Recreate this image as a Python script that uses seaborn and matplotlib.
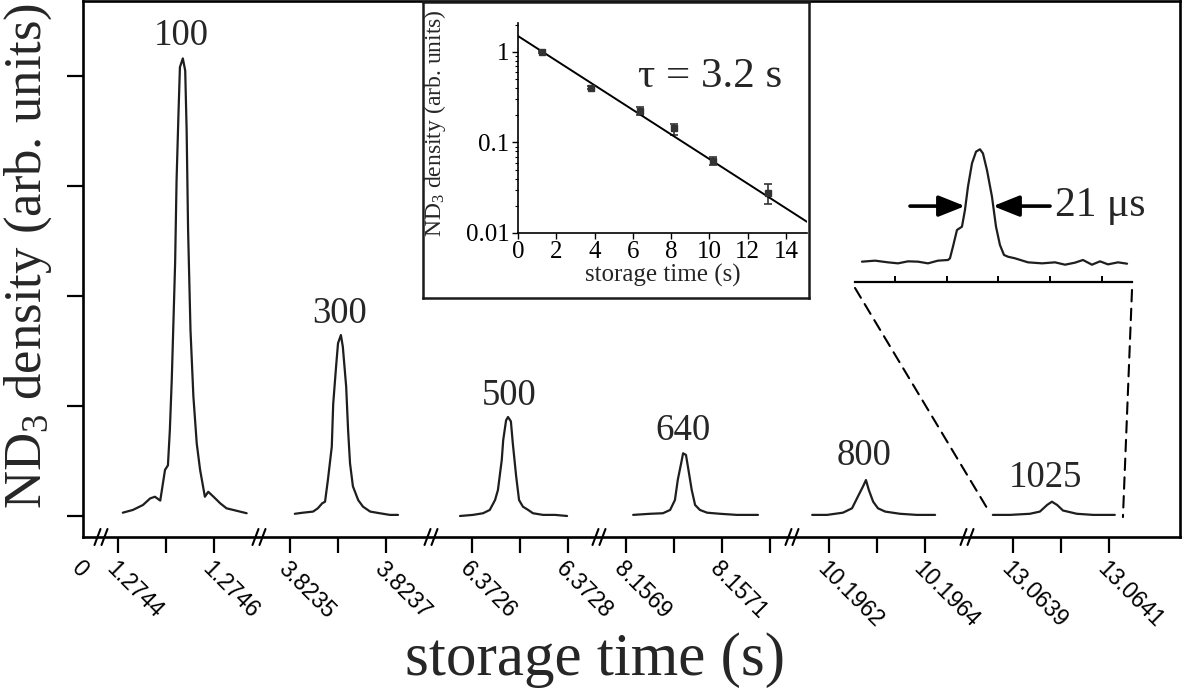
import numpy as np
import matplotlib
matplotlib.use("Agg")
import matplotlib.pyplot as plt
import seaborn as sns
from matplotlib.lines import Line2D
from matplotlib.patches import ConnectionPatch

# ---------------- data ----------------
delay_labels = ["100", "300", "500", "640", "800", "1025"]

# first labelled tick of every axis segment (s); peak data are given in microseconds after it
seg_base = [1.2744, 3.8235, 6.3726, 8.1569, 10.1962, 13.0639]
seg_ticks_us = [[0, 100, 200], [0, 100, 200], [0, 100, 200], [0, 100, 200, 300], [0, 100, 200], [0, 100, 200]]
seg_ticklabels = [["1.2744", "", "1.2746"], ["3.8235", "", "3.8237"], ["6.3726", "", "6.3728"],
                  ["8.1569", "", "8.1571", ""], ["10.1962", "", "10.1964"], ["13.0639", "", "13.0641"]]

peak1_us = [10, 31, 52, 67, 77, 88, 98, 104, 108, 112, 115, 119, 122, 126, 129, 135, 140, 143, 146, 151,
            157, 164, 171, 181, 188, 199, 213, 226, 240, 268]
peak1_y = [0.03, 0.055, 0.10, 0.16, 0.175, 0.14, 0.42, 0.46, 0.78, 1.24, 1.69, 2.30, 3.05, 3.66, 4.08, 4.16,
           4.05, 3.50, 2.60, 1.69, 1.09, 0.66, 0.42, 0.175, 0.22, 0.175, 0.115, 0.07, 0.055, 0.025]
peak2_us = [10, 27, 48, 58, 67, 73, 79, 87, 90, 96, 100, 106, 110, 117, 121, 125, 131, 142, 152, 167, 187, 208, 225]
peak2_y = [0.02, 0.03, 0.04, 0.07, 0.115, 0.13, 0.33, 0.63, 1.02, 1.36, 1.57, 1.645, 1.54, 1.175, 0.78, 0.48,
           0.27, 0.145, 0.085, 0.04, 0.025, 0.01, 0.01]
peak3_us = [-25, 2, 23, 37, 48, 54, 62, 65, 71, 75, 81, 85, 92, 98, 106, 117, 127, 148, 173, 198]
peak3_y = [0.0, 0.01, 0.025, 0.055, 0.145, 0.236, 0.51, 0.69, 0.87, 0.90, 0.86, 0.66, 0.36, 0.145, 0.085,
           0.055, 0.025, 0.01, 0.01, 0.0]
peak4_us = [15, 50, 77, 92, 102, 108, 115, 119, 125, 129, 137, 144, 154, 169, 196, 231, 275]
peak4_y = [0.01, 0.02, 0.025, 0.055, 0.145, 0.33, 0.48, 0.57, 0.555, 0.45, 0.236, 0.10, 0.055, 0.03, 0.02,
           0.01, 0.01]
peak5_us = [-35, -4, 29, 48, 60, 71, 77, 83, 92, 102, 117, 148, 183, 221]
peak5_y = [0.01, 0.01, 0.03, 0.07, 0.175, 0.27, 0.327, 0.236, 0.13, 0.07, 0.04, 0.02, 0.01, 0.01]
peak6_us = [-42, -6, 35, 56, 71, 81, 92, 104, 133, 167, 212]
peak6_y = [0.01, 0.01, 0.02, 0.04, 0.10, 0.13, 0.10, 0.05, 0.02, 0.01, 0.01]

label_us = [131, 104, 77, 119, 73, 67]
label_y = [4.28, 1.755, 1.01, 0.69, 0.46, 0.264]

# magnified 1025 ms peak (upper-right inset)
zoom_us = [18.1, 30.7, 43.2, 52.9, 62.6, 72.2, 81.9, 91.5, 101.2, 103.1, 106.0, 109.9, 114.7, 117.6, 120.5,
           124.4, 128.3, 132.1, 135.0, 138.9, 143.7, 147.6, 151.4, 155.3, 159.2, 165.9, 178.5, 192.0, 204.6,
           214.3, 223.9, 231.6, 240.3, 248.1, 255.8, 265.5, 274.2]
zoom_y = [-0.006, 0.003, -0.012, -0.021, -0.003, -0.006, -0.021, 0.003, 0.009, 0.024, 0.128, 0.277, 0.306,
          0.455, 0.663, 0.872, 0.976, 0.997, 0.96, 0.81, 0.574, 0.306, 0.143, 0.054, 0.038, 0.024, -0.012,
          -0.021, -0.012, -0.033, -0.015, 0.009, -0.033, -0.003, -0.03, -0.012, -0.024]

# decay inset
storage_s = [1.27, 3.82, 6.37, 8.16, 10.20, 13.06]
density = [1.0, 0.40, 0.223, 0.143, 0.0625, 0.0275]
dens_lo = [0.97, 0.385, 0.20, 0.121, 0.056, 0.021]
dens_hi = [1.03, 0.42, 0.245, 0.16, 0.07, 0.0345]
fit_t = [0.0, 15.1]
fit_y = [1.5, 0.0133]

peaks_us = [peak1_us, peak2_us, peak3_us, peak4_us, peak5_us, peak6_us]
peaks_y = [peak1_y, peak2_y, peak3_y, peak4_y, peak5_y, peak6_y]

# ---------------- style ----------------
sns.set_theme(style="ticks")
plt.rcParams["font.family"] = ["Liberation Serif", "DejaVu Serif"]
plt.rcParams["mathtext.fontset"] = "custom"
plt.rcParams["mathtext.rm"] = "Liberation Serif"
plt.rcParams["mathtext.it"] = "Liberation Serif:italic"
plt.rcParams["axes.edgecolor"] = "black"
plt.rcParams["xtick.color"] = "black"
plt.rcParams["ytick.color"] = "black"

W, H = 1182, 696
fig = plt.figure(figsize=(W / 100, H / 100), dpi=100)
fig.patch.set_facecolor("white")


def fx(px):
    return px / W


def fy(py):
    return 1 - py / H


TOP, BOT = 1, 537
YLIM = (-0.191, 4.682)
TRACE = "#1e1e1e"

frame = fig.add_axes([fx(83), fy(BOT), fx(1180) - fx(83), fy(TOP) - fy(BOT)])
frame.set_ylim(YLIM)
frame.set_xticks([])
frame.set_yticks([0, 1, 2, 3, 4])
frame.set_yticklabels([])
frame.tick_params(axis="y", length=11.5, width=1.6, direction="out")
for s in frame.spines.values():
    s.set_linewidth(1.9)
    s.set_visible(True)

# stub with "0"
ax0 = fig.add_axes([fx(83), fy(BOT), 18 / W, fy(TOP) - fy(BOT)])
ax0.patch.set_alpha(0)
ax0.set_xlim(0, 1)
ax0.set_ylim(YLIM)
ax0.set_xticks([0])
ax0.set_xticklabels(["0"], rotation=-45, ha="left", rotation_mode="anchor", family="Liberation Sans", fontsize=16.5)
ax0.tick_params(axis="x", length=0, pad=14)
ax0.set_yticks([])
for s in ax0.spines.values():
    s.set_visible(False)

US_PER_PX = 2.083
seg_xlim_us = [(-35.4, 293.7), (-64.6, 293.7), (-85.4, 264.5), (-56.2, 345.8), (-77.1, 287.5), (-95.8, 347.9)]

left = 101.0
seg_axes = []
breaks = []
for i in range(6):
    lo, hi = seg_xlim_us[i]
    w = (hi - lo) / US_PER_PX
    ax = fig.add_axes([fx(left), fy(BOT), w / W, fy(TOP) - fy(BOT)])
    ax.patch.set_alpha(0)
    base = seg_base[i]
    t = base + np.array(peaks_us[i]) * 1e-6
    sns.lineplot(x=t, y=peaks_y[i], ax=ax, color=TRACE, linewidth=1.6, sort=False)
    ax.set_xlim(base + lo * 1e-6, base + hi * 1e-6)
    ax.set_ylim(YLIM)
    ax.set_xticks([base + u * 1e-6 for u in seg_ticks_us[i]])
    ax.set_xticklabels(seg_ticklabels[i], rotation=-45, ha="left", rotation_mode="anchor",
                       family="Liberation Sans", fontsize=16.5)
    ax.tick_params(axis="x", length=11.5, width=1.6, direction="out", pad=3)
    ax.set_yticks([])
    ax.set_xlabel("")
    ax.set_ylabel("")
    for s in ax.spines.values():
        s.set_visible(False)
    ax.text(base + label_us[i] * 1e-6, label_y[i], delay_labels[i], ha="center", va="baseline", fontsize=26.5)
    seg_axes.append(ax)
    breaks.append(left)
    left += w

# axis-break marks
for bx in breaks:
    for d in (-3.5, 3.5):
        fig.add_artist(Line2D([fx(bx + d - 3), fx(bx + d + 3)], [fy(BOT + 8), fy(BOT - 8)],
                              color="black", lw=1.5, transform=fig.transFigure))

fig.text(fx(28), fy(256), r"ND$_3$ density (arb. units)", rotation=90, ha="center", va="center", fontsize=38)
fig.text(fx(595), fy(660), "storage time (s)", ha="center", va="center", fontsize=44)

# ---------------- magnified peak inset ----------------
zax = fig.add_axes([fx(855), fy(282), (1132 - 855) / W, (282 - 140) / H])
zax.patch.set_alpha(0)
sns.lineplot(x=zoom_us, y=zoom_y, ax=zax, color=TRACE, linewidth=1.6, sort=False)
zax.set_xlim(11.35, 279)
zax.set_ylim(-0.1875, 1.08)
zax.set_xticks([50, 100, 150, 200, 250])
zax.set_xticklabels([])
zax.set_yticks([])
zax.set_xlabel("")
zax.set_ylabel("")
zax.tick_params(axis="x", direction="in", length=4, width=1.4)
for k, s in zax.spines.items():
    s.set_visible(k == "bottom")
zax.spines["bottom"].set_linewidth(1.6)
arrow = dict(arrowstyle="-|>,head_length=1.0,head_width=0.4", lw=2.6, color="black",
             shrinkA=0, shrinkB=0, mutation_scale=16)
zax.annotate("", xy=(117.6, 0.49), xytext=(64.5, 0.49), arrowprops=arrow)
zax.annotate("", xy=(144.7, 0.49), xytext=(199.8, 0.49), arrowprops=arrow)
zax.text(204.6, 0.49, "21 μs", ha="left", va="center", fontsize=30)

seg6 = seg_axes[5]
dash = (0, (5.5, 3.5))
con1 = ConnectionPatch(xyA=(0.0, -0.042), coordsA=zax.transAxes,
                       xyB=(seg_base[5] - 47.9e-6, 0.027), coordsB=seg6.transData,
                       lw=1.5, ls=dash, color="black")
con2 = ConnectionPatch(xyA=(1.0, -0.056), coordsA=zax.transAxes,
                       xyB=(seg_base[5] + 229e-6, -0.01), coordsB=seg6.transData,
                       lw=1.5, ls=dash, color="black")
fig.add_artist(con1)
fig.add_artist(con2)

# ---------------- decay inset ----------------
box = fig.add_axes([fx(423), fy(298), 386 / W, 296 / H])
box.set_xticks([])
box.set_yticks([])
box.set_facecolor("white")
for s in box.spines.values():
    s.set_linewidth(1.8)
    s.set_color("#1a1a1a")

lax = fig.add_axes([fx(518), fy(233), 289 / W, 210 / H])
lax.patch.set_alpha(0)
lax.set_yscale("log")
dens = np.array(density)
lax.errorbar(storage_s, dens, yerr=[dens - np.array(dens_lo), np.array(dens_hi) - dens], fmt="s", ms=4.5,
             color="#333333", ecolor="#333333", elinewidth=1.2, capsize=3, capthick=1.2)
sns.lineplot(x=fit_t, y=fit_y, ax=lax, color="black", linewidth=1.4)
lax.set_xlim(0, 15.1)
lax.set_ylim(0.01, 2.09)
lax.set_xticks(list(range(0, 16, 2)))
lax.set_xticklabels([str(v) for v in range(0, 16, 2)], fontsize=18)
lax.set_yticks([0.01, 0.1, 1])
lax.set_yticklabels(["0.01", "0.1", "1"], fontsize=18)
lax.tick_params(axis="both", which="major", length=4, width=1.0, pad=2)
lax.tick_params(axis="y", which="minor", length=2.5, width=0.8)
lax.set_xlabel("")
lax.set_ylabel("")
for k in ("top", "right"):
    lax.spines[k].set_visible(False)
for k in ("left", "bottom"):
    lax.spines[k].set_linewidth(1.2)
lax.text(0.502, -0.2, "storage time (s)", transform=lax.transAxes, ha="center", va="center", fontsize=18)
lax.text(-0.287, 0.524, r"ND$_3$ density (arb. units)", transform=lax.transAxes, rotation=90,
         ha="center", va="center", fontsize=17)
lax.text(0.664, 0.743, "τ = 3.2 s", transform=lax.transAxes, ha="center", va="center", fontsize=31)

fig.savefig("out.png", dpi=100, facecolor="white")
